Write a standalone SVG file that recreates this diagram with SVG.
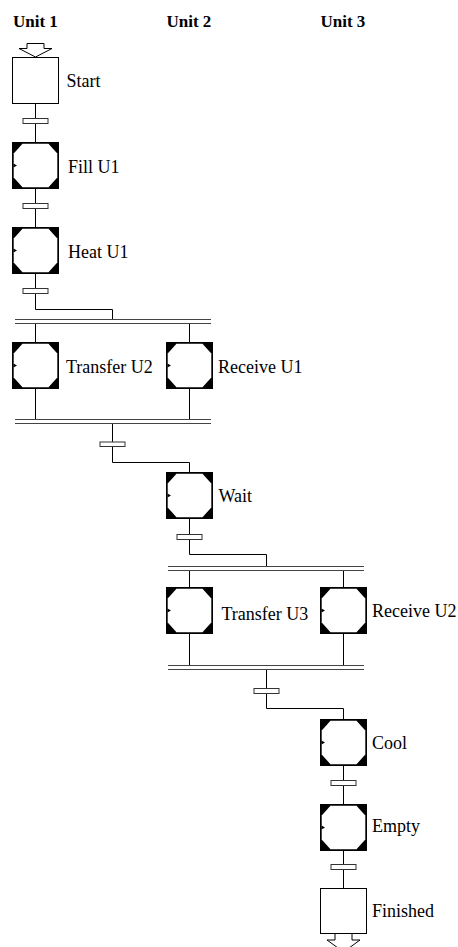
<svg xmlns="http://www.w3.org/2000/svg" xmlns:xlink="http://www.w3.org/1999/xlink" width="458" height="947" viewBox="0 0 458 947">
<style>
text{font-family:'Liberation Serif','DejaVu Serif',serif;fill:#000}
.lbl{font-size:18px}
.hdr{font-size:17px;font-weight:bold}
.ln{stroke:#000;stroke-width:1;fill:none}
.bar{stroke:#444;stroke-width:1;fill:none}
.tr{fill:#fff;stroke:#333;stroke-width:1}
.box{fill:#fff;stroke:#000;stroke-width:1}
</style>
<defs>
<g id="step">
<rect x="0" y="0" width="47" height="47" fill="#000"/>
<polygon points="10.5,1.7 36.5,1.7 45.3,11.5 45.3,35.5 36.5,45.3 10.5,45.3 1.7,35.5 1.7,11.5" fill="#fff"/>
<polygon points="1.5,21.5 1.5,25.5 5,23.5" fill="#000"/>
</g>
</defs>
<g id="headers">
<text class="hdr" x="13" y="27" font-family="Liberation Serif, serif">Unit 1</text>
<text class="hdr" x="166.5" y="27" font-family="Liberation Serif, serif">Unit 2</text>
<text class="hdr" x="320.5" y="27" font-family="Liberation Serif, serif">Unit 3</text>
</g>
<g id="connectors">
<path class="ln" d="M35.5,104 V142 M35.5,189 V227 M35.5,274 V309.5 H112.5 V319"/>
<path class="bar" d="M15,319.5 H211 M15,323.5 H211"/>
<path class="ln" d="M35.5,324 V342 M189.5,324 V342 M35.5,389 V419 M189.5,389 V419"/>
<path class="bar" d="M15,419.5 H211 M15,423.5 H211"/>
<path class="ln" d="M112.5,424 V462.5 H189.5 V472 M189.5,519 V554.5 H266.5 V566"/>
<path class="bar" d="M168,566.5 H364 M168,570.5 H364"/>
<path class="ln" d="M189.5,571 V587 M343.5,571 V587 M189.5,634 V665 M343.5,634 V665"/>
<path class="bar" d="M168,665.5 H364 M168,669.5 H364"/>
<path class="ln" d="M266.5,670 V708.5 H343.5 V719 M343.5,766 V804 M343.5,851 V888"/>
<rect class="tr" x="23" y="118.5" width="25" height="5"/>
<rect class="tr" x="23" y="203.5" width="25" height="5"/>
<rect class="tr" x="23" y="288.5" width="25" height="5"/>
<rect class="tr" x="100" y="442" width="25" height="4.5"/>
<rect class="tr" x="177" y="534.5" width="25" height="5"/>
<rect class="tr" x="254" y="688.5" width="25" height="5"/>
<rect class="tr" x="331" y="780.5" width="25" height="5"/>
<rect class="tr" x="331" y="864.5" width="25" height="5"/>
<polygon class="box" points="27,43.5 44,43.5 44,48.5 52,48.5 35.5,57 19,48.5 27,48.5"/>
<polygon class="box" points="335,933.5 352,933.5 352,940 360,940 343.5,952 327,940 335,940"/>
</g>
<g id="start"><rect class="box" x="12.5" y="57.5" width="46" height="46"/><text class="lbl" x="66.5" y="87">Start</text></g>
<g id="fill-u1"><use xlink:href="#step" x="12" y="142"/><text class="lbl" x="68" y="173">Fill U1</text></g>
<g id="heat-u1"><use xlink:href="#step" x="12" y="227"/><text class="lbl" x="68" y="258">Heat U1</text></g>
<g id="transfer-u2"><use xlink:href="#step" x="12" y="342"/><text class="lbl" x="66" y="373">Transfer U2</text></g>
<g id="receive-u1"><use xlink:href="#step" x="166" y="342"/><text class="lbl" x="218" y="373">Receive U1</text></g>
<g id="wait"><use xlink:href="#step" x="166" y="472"/><text class="lbl" x="218.5" y="502">Wait</text></g>
<g id="transfer-u3"><use xlink:href="#step" x="166" y="587"/><text class="lbl" x="221.5" y="620">Transfer U3</text></g>
<g id="receive-u2"><use xlink:href="#step" x="320" y="587"/><text class="lbl" x="372" y="617">Receive U2</text></g>
<g id="cool"><use xlink:href="#step" x="320" y="719"/><text class="lbl" x="372" y="749">Cool</text></g>
<g id="empty"><use xlink:href="#step" x="320" y="804"/><text class="lbl" x="372" y="832">Empty</text></g>
<g id="finished"><rect class="box" x="320.5" y="888.5" width="46" height="45"/><text class="lbl" x="372" y="917">Finished</text></g>
</svg>
